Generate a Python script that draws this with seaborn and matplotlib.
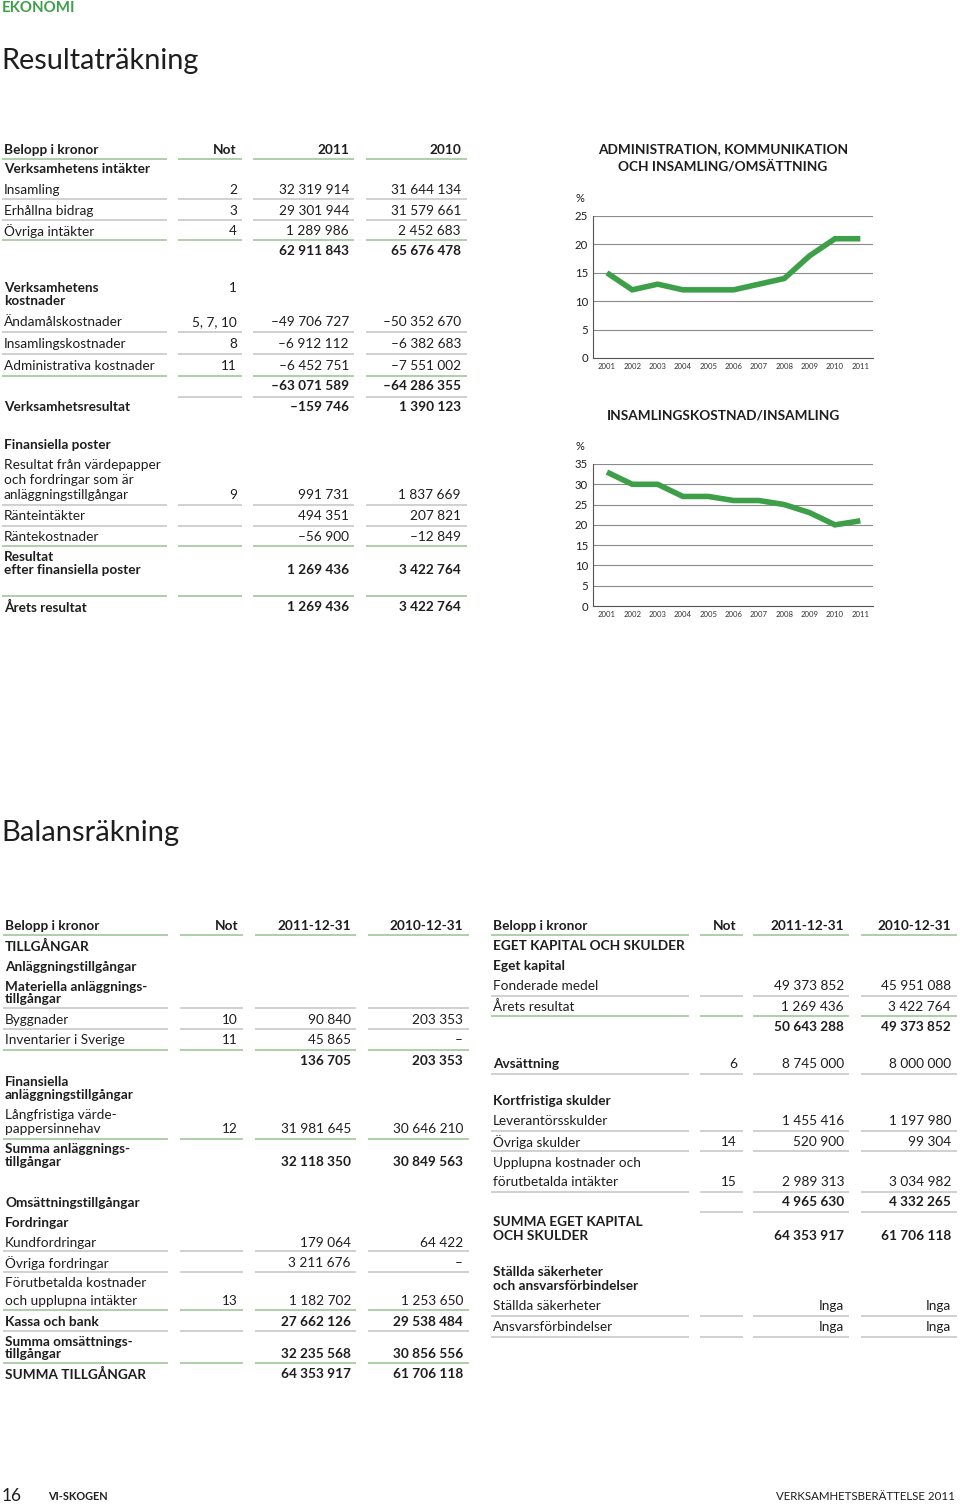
import matplotlib
matplotlib.use('Agg')
import matplotlib.pyplot as plt
import seaborn as sns
import pandas as pd

# --- chart data ---
years = [2001, 2002, 2003, 2004, 2005, 2006, 2007, 2008, 2009, 2010, 2011]
admin_share = [15, 12, 13, 12, 12, 12, 13, 14, 18, 21, 21]
fundraising_share = [33, 30, 30, 27, 27, 26, 26, 25, 23, 20, 21]

# --- Resultaträkning (label, not, 2011, 2010) ---
inc_rows = [
    ('Belopp i kronor', 'Not', '2011', '2010'),
    ('Verksamhetens intäkter', '', '', ''),
    ('Insamling', '2', '32 319 914', '31 644 134'),
    ('Erhållna bidrag', '3', '29 301 944', '31 579 661'),
    ('Övriga intäkter', '4', '1 289 986', '2 452 683'),
    ('', '', '62 911 843', '65 676 478'),
    ('Verksamhetens\nkostnader', '1', '', ''),
    ('Ändamålskostnader', '5, 7, 10', '–49 706 727', '–50 352 670'),
    ('Insamlingskostnader', '8', '–6 912 112', '–6 382 683'),
    ('Administrativa kostnader', '11', '–6 452 751', '–7 551 002'),
    ('', '', '–63 071 589', '–64 286 355'),
    ('Verksamhetsresultat', '', '–159 746', '1 390 123'),
    ('Finansiella poster', '', '', ''),
    ('Resultat från värdepapper\noch fordringar som är\nanläggningstillgångar', '9', '991 731', '1 837 669'),
    ('Ränteintäkter', '', '494 351', '207 821'),
    ('Räntekostnader', '', '–56 900', '–12 849'),
    ('Resultat\nefter finansiella poster', '', '1 269 436', '3 422 764'),
    ('Årets resultat', '', '1 269 436', '3 422 764'),
]

# --- Balansräkning, tillgångar ---
assets_rows = [
    ('Belopp i kronor', 'Not', '2011-12-31', '2010-12-31'),
    ('TILLGÅNGAR', '', '', ''),
    ('Anläggningstillgångar', '', '', ''),
    ('Materiella anläggnings-\ntillgångar', '', '', ''),
    ('Byggnader', '10', '90 840', '203 353'),
    ('Inventarier i Sverige', '11', '45 865', '–'),
    ('', '', '136 705', '203 353'),
    ('Finansiella\nanläggningstillgångar', '', '', ''),
    ('Långfristiga värde-\npappersinnehav', '12', '31 981 645', '30 646 210'),
    ('Summa anläggnings-\ntillgångar', '', '32 118 350', '30 849 563'),
    ('Omsättningstillgångar', '', '', ''),
    ('Fordringar', '', '', ''),
    ('Kundfordringar', '', '179 064', '64 422'),
    ('Övriga fordringar', '', '3 211 676', '–'),
    ('Förutbetalda kostnader\noch upplupna intäkter', '13', '1 182 702', '1 253 650'),
    ('Kassa och bank', '', '27 662 126', '29 538 484'),
    ('Summa omsättnings-\ntillgångar', '', '32 235 568', '30 856 556'),
    ('SUMMA TILLGÅNGAR', '', '64 353 917', '61 706 118'),
]

# --- Balansräkning, eget kapital och skulder ---
equity_rows = [
    ('Belopp i kronor', 'Not', '2011-12-31', '2010-12-31'),
    ('EGET KAPITAL OCH SKULDER', '', '', ''),
    ('Eget kapital', '', '', ''),
    ('Fonderade medel', '', '49 373 852', '45 951 088'),
    ('Årets resultat', '', '1 269 436', '3 422 764'),
    ('', '', '50 643 288', '49 373 852'),
    ('Avsättning', '6', '8 745 000', '8 000 000'),
    ('Kortfristiga skulder', '', '', ''),
    ('Leverantörsskulder', '', '1 455 416', '1 197 980'),
    ('Övriga skulder', '14', '520 900', '99 304'),
    ('Upplupna kostnader och\nförutbetalda intäkter', '15', '2 989 313', '3 034 982'),
    ('', '', '4 965 630', '4 332 265'),
    ('SUMMA EGET KAPITAL\nOCH SKULDER', '', '64 353 917', '61 706 118'),
    ('Ställda säkerheter\noch ansvarsförbindelser', '', '', ''),
    ('Ställda säkerheter', '', 'Inga', 'Inga'),
    ('Ansvarsförbindelser', '', 'Inga', 'Inga'),
]

# --- layout (pixel rows, row kinds, rules) ---
inc_y = [150, 169, 190, 211, 231, 251, (288, 301), 322, 344, 366, 386, 407, 445,
         (465, 480, 495), 516, 537, (557, 570), 607]
inc_kind = ['h', 's', 'r', 'r', 'r', 't', 's', 'r', 'r', 'r', 't', 't', 's', 'r', 'r', 'r', 't', 't']
inc_rules = [(159, 'G', 1), (199, 'g', 1), (220, 'g', 1), (240, 'G', 1), (332, 'g', 1),
             (354, 'g', 1), (376, 'G', 1), (397, 'g', 0), (505, 'g', 1), (526, 'g', 1),
             (546, 'G', 1), (596, 'G', 1)]
inc_cols = dict(text=(4, 237, 349, 461), segs=[(2, 167), (178, 242), (253, 354), (366, 467)])

assets_y = [926, 946, 967, (987, 999), 1020, 1040, 1061, (1082, 1095), (1115, 1129),
            (1149, 1162), 1203, 1223, 1243, 1263, (1283, 1301), 1322, (1342, 1354), 1374]
assets_kind = ['h', 'm', 's', 's', 'r', 'r', 't', 's', 'r', 't', 's', 's', 'r', 'r', 'r', 't', 't', 'm']
assets_rules = [(935, 'G', 1), (1008, 'g', 1), (1029, 'g', 1), (1050, 'G', 1), (1139, 'G', 1),
                (1251, 'g', 1), (1272, 'g', 1), (1310, 'G', 1), (1331, 'g', 1), (1363, 'G', 1)]
assets_cols = dict(text=(5, 238, 351, 463), segs=[(3, 168), (180, 243), (255, 356), (368, 469)])

equity_y = [926, 946, 966, 986, 1007, 1027, 1064, 1101, 1121, 1142, (1163, 1182), 1202,
            (1222, 1236), (1272, 1286), 1306, 1327]
equity_kind = ['h', 'm', 's', 'r', 'r', 't', 'b', 's', 'r', 'r', 'r', 't', 't', 's', 'r', 'r']
equity_rules = [(935, 'G', 1), (996, 'g', 1), (1016, 'G', 1), (1074, 'g', 1), (1131, 'g', 1),
                (1151, 'g', 1), (1192, 'g', 1), (1212, 'g', 0), (1316, 'g', 1), (1337, 'g', 1)]
equity_cols = dict(text=(493, 737, 844, 951), segs=[(491, 689), (700, 743), (753, 849), (861, 957)])

GREEN = '#3d9f48'
RULE = {'g': '#cdcdcd', 'G': '#a8cca2'}
TXT = '#1e1e1e'
FS = 9.8

sns.set_theme(style='white')
plt.rcParams['font.family'] = ['Lato', 'DejaVu Sans']

fig = plt.figure(figsize=(9.6, 15.04), dpi=100)
bg = fig.add_axes([0, 0, 1, 1])
bg.set_xlim(0, 960)
bg.set_ylim(1504, 0)
bg.axis('off')


def draw_table(ax, rows, ys, kinds, rules, cols):
    x_lab, x_not, x_v1, x_v2 = cols['text']
    for (label, note, v1, v2), y, kind in zip(rows, ys, kinds):
        yl = y if isinstance(y, tuple) else (y,)
        lab_w = 'bold' if kind in 'hstbm' else 'normal'
        val_w = 'bold' if kind in 'htm' else 'normal'
        for line, yy in zip(label.split('\n'), yl):
            ax.text(x_lab, yy, line, fontsize=FS, fontweight=lab_w, color=TXT, ha='left', va='center')
        y_not = yl[0] if not (v1 or v2) else yl[-1]
        ax.text(x_not, y_not, note, fontsize=FS, fontweight='bold' if kind == 'h' else 'normal',
                color=TXT, ha='right', va='center')
        ax.text(x_v1, yl[-1], v1, fontsize=FS, fontweight=val_w, color=TXT, ha='right', va='center')
        ax.text(x_v2, yl[-1], v2, fontsize=FS, fontweight=val_w, color=TXT, ha='right', va='center')
    for y, c, full in rules:
        segs = cols['segs'] if full else cols['segs'][1:]
        for a, b in segs:
            ax.plot([a, b], [y, y], color=RULE[c], lw=1.3, solid_capstyle='butt')


# page texts
bg.text(2, 8, 'EKONOMI', fontsize=10.8, fontweight='bold', color=GREEN, ha='left', va='center')
bg.text(1, 61, 'Resultaträkning', fontsize=20.8, color=TXT, ha='left', va='center')
bg.text(1, 833, 'Balansräkning', fontsize=21, color=TXT, ha='left', va='center')
bg.text(2, 1496, '16', fontsize=12.5, color=TXT, ha='left', va='center')
bg.text(48, 1497, 'VI-SKOGEN', fontsize=7.8, fontweight='bold', color=TXT, ha='left', va='center')
bg.text(955, 1497, 'VERKSAMHETSBERÄTTELSE 2011', fontsize=8.3, color=TXT, ha='right', va='center')

draw_table(bg, inc_rows, inc_y, inc_kind, inc_rules, inc_cols)
draw_table(bg, assets_rows, assets_y, assets_kind, assets_rules, assets_cols)
draw_table(bg, equity_rows, equity_y, equity_kind, equity_rules, equity_cols)

# chart titles
bg.text(723, 149, 'ADMINISTRATION, KOMMUNIKATION', fontsize=9.8, fontweight='bold', color=TXT, ha='center', va='center')
bg.text(723, 166, 'OCH INSAMLING/OMSÄTTNING', fontsize=9.8, fontweight='bold', color=TXT, ha='center', va='center')
bg.text(723, 415, 'INSAMLINGSKOSTNAD/INSAMLING', fontsize=9.8, fontweight='bold', color=TXT, ha='center', va='center')
bg.text(580, 199, '%', fontsize=8, color=TXT, ha='center', va='center')
bg.text(580, 447, '%', fontsize=8, color=TXT, ha='center', va='center')


def line_chart(rect, values, ymax):
    ax = fig.add_axes(rect)
    ax.set_facecolor('none')
    df = pd.DataFrame({'year': years, 'value': values})
    sns.lineplot(data=df, x='year', y='value', ax=ax, color=GREEN, linewidth=4.0)
    for ln in ax.lines:
        ln.set_solid_joinstyle('miter')
        ln.set_solid_capstyle('butt')
    ax.set_xlim(2000.45, 2011.5)
    ax.set_ylim(0, ymax)
    ax.set_yticks(range(0, ymax + 1, 5))
    ax.set_xticks(years)
    ax.set_xticklabels([str(y) for y in years])
    ax.set_xlabel('')
    ax.set_ylabel('')
    ax.yaxis.grid(True, color='#8a8a8a', lw=0.8)
    ax.xaxis.grid(False)
    ax.set_axisbelow(True)
    for s in ['top', 'right']:
        ax.spines[s].set_visible(False)
    for s in ['left', 'bottom']:
        ax.spines[s].set_color('#555555')
        ax.spines[s].set_linewidth(0.8)
    ax.tick_params(axis='y', length=0, pad=3.5, labelsize=8.2, labelcolor=TXT)
    ax.tick_params(axis='x', length=0, pad=3.5, labelsize=5.6, labelcolor='#333333')
    return ax


line_chart([593 / 960, 1 - 358 / 1504, 280 / 960, 142 / 1504], admin_share, 25)
line_chart([593 / 960, 1 - 606 / 1504, 280 / 960, 142 / 1504], fundraising_share, 35)

fig.savefig('out.png', dpi=100)
